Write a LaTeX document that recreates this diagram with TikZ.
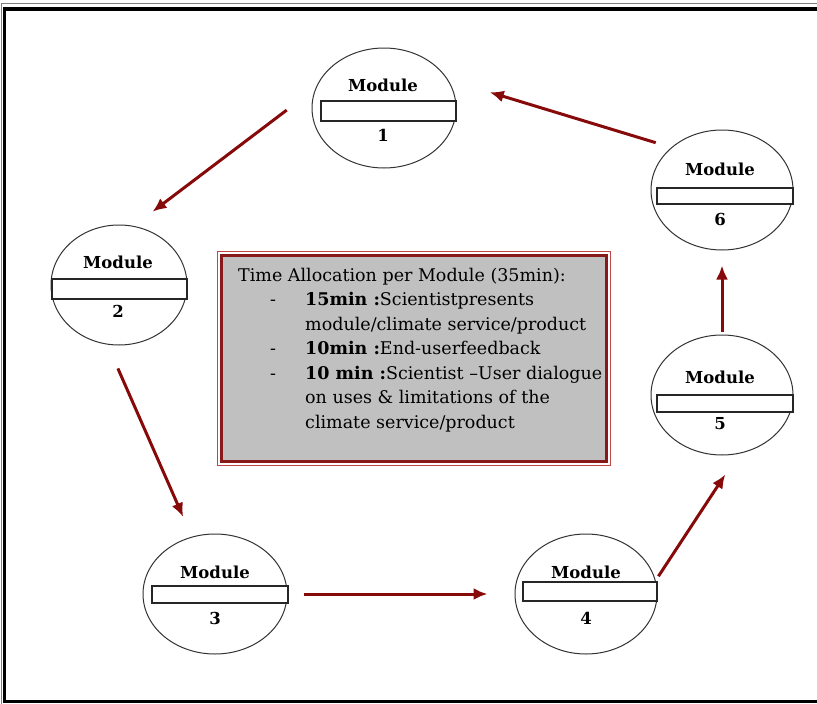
\documentclass[tikz,border=0pt]{standalone}
\usepackage{fontspec}
\setmainfont{DejaVu Serif}
\usepackage{tikz}
\usetikzlibrary{arrows.meta, shapes.geometric, positioning}
\tikzset{>={Latex[length=14pt,width=12pt]}}
\definecolor{arrowred}{RGB}{135,10,10}
\definecolor{boxgray}{RGB}{192,192,192}
\definecolor{boxred}{RGB}{135,25,25}
\definecolor{boxredlight}{RGB}{190,70,70}
\tikzset{
  module/.style={ellipse, draw=black!80, line width=1pt, minimum height=120pt, inner sep=0pt},
  bar/.style={rectangle, draw=black!85, line width=1.2pt, fill=white, inner sep=0pt},
  modlabel/.style={font=\fontsize{16.5}{19}\selectfont\bfseries},
  flow/.style={->, draw=arrowred, line width=3pt},
}

\begin{document}
\begin{tikzpicture}[x=1pt, y=-1pt]
\useasboundingbox (0,0) rectangle (817,704);

% outer frame
\draw[gray, line width=1.3pt] (1.5,704) -- (1.5,3.5) -- (817,3.5);
\draw[black, line width=3.5pt] (817,9) -- (4.5,9) -- (4.5,701.5) -- (817,701.5);

% modules
\node[module, minimum width=144pt] (m1) at (384,108) {};
\node[bar, minimum width=135pt, minimum height=20pt] (b1) at (388.5,111) {};
\node[modlabel] (t1) at (383,85) {Module};
\node[modlabel] (n1) at (383,135) {1};

\node[module, minimum width=136pt] (m2) at (119,285) {};
\node[bar, minimum width=135pt, minimum height=20pt] (b2) at (119.5,289) {};
\node[modlabel] (t2) at (118,262) {Module};
\node[modlabel] (n2) at (118,311) {2};

\node[module, minimum width=144pt] (m3) at (215,594) {};
\node[bar, minimum width=136pt, minimum height=17pt] (b3) at (220,594.5) {};
\node[modlabel] (t3) at (215,572) {Module};
\node[modlabel] (n3) at (215,618) {3};

\node[module, minimum width=142pt] (m4) at (586,594) {};
\node[bar, minimum width=134pt, minimum height=19pt] (b4) at (590,591.5) {};
\node[modlabel] (t4) at (586,572) {Module};
\node[modlabel] (n4) at (586,618) {4};

\node[module, minimum width=142pt] (m5) at (722,395) {};
\node[bar, minimum width=136pt, minimum height=17pt] (b5) at (725,403.5) {};
\node[modlabel] (t5) at (720,377) {Module};
\node[modlabel] (n5) at (720,424) {5};

\node[module, minimum width=142pt] (m6) at (722,190) {};
\node[bar, minimum width=136pt, minimum height=16pt] (b6) at (725,196) {};
\node[modlabel] (t6) at (720,169) {Module};
\node[modlabel] (n6) at (720,219) {6};

% time allocation box
\node[draw=boxred, line width=2.5pt, fill=boxgray, minimum width=385pt, minimum height=206pt, inner sep=0pt] (info) at (414,358.5) {};
\draw[boxredlight, line width=1.2pt] ([xshift=-2.5pt,yshift=2.5pt]info.north west) rectangle ([xshift=2.5pt,yshift=-2.5pt]info.south east);
\node[anchor=north west, inner sep=0pt, font=\fontsize{17.5}{24.5}\selectfont] (infotext) at (238,264) {%
\begin{tabular}{@{\hspace{32pt}}p{35pt}@{}l@{}}
\multicolumn{2}{@{}l@{}}{Time Allocation per Module (35min):}\\
- & \textbf{15min :}Scientistpresents\\
  & module/climate service/product\\
- & \textbf{10min :}End-userfeedback\\
- & \textbf{10 min :}Scientist –User dialogue\\
  & on uses \& limitations of the\\
  & climate service/product
\end{tabular}};

% cycle arrows
\draw[flow, shorten <=36pt, shorten >=23.5pt] (m1.164) -- (m2.76);
\draw[flow, shorten <=26pt, shorten >=21.6pt] (m2.259) -- (m3.112);
\draw[flow, shorten <=16pt, shorten >=27pt] (m3.east) -- (m4.west);
\draw[flow, shorten <=5pt, shorten >=24.7pt] (m4.11) -- (m5.286);
\draw[flow, shorten <=3pt, shorten >=15pt] (m5.north) -- (m6.south);
\draw[flow, shorten <=16.2pt, shorten >=43.7pt] (m6.140) -- (m1.24);

\end{tikzpicture}
\end{document}
